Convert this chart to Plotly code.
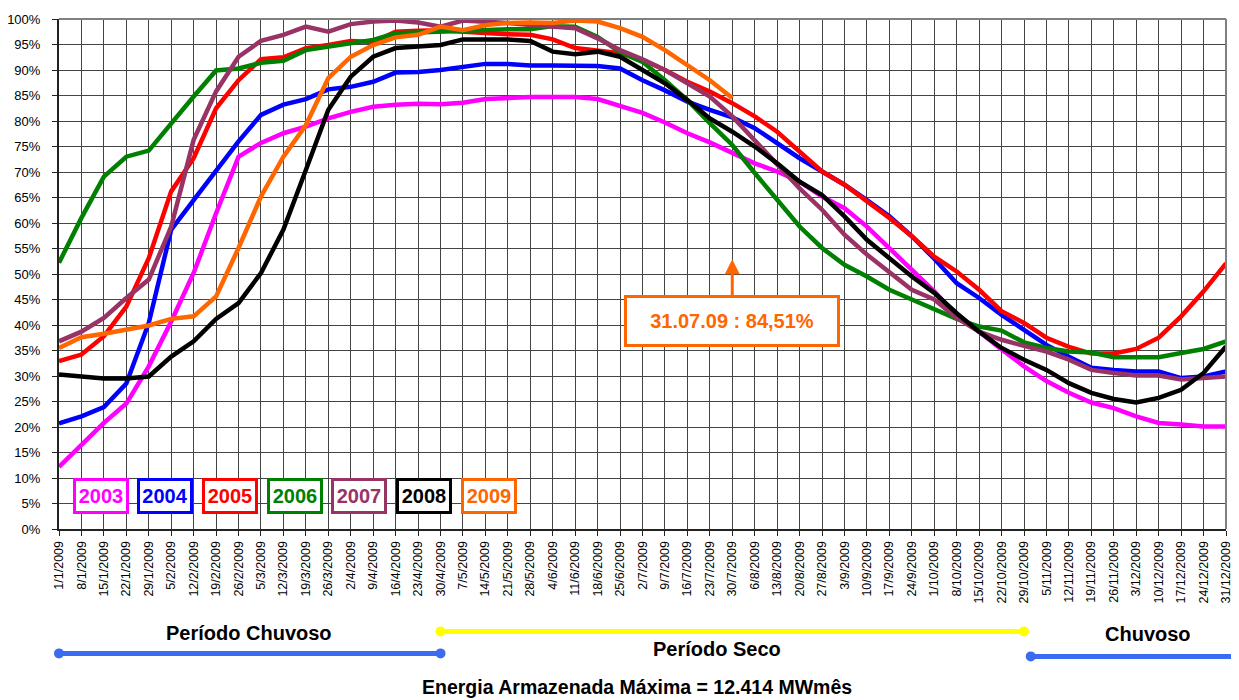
import plotly.graph_objects as go

dates = ["1/1/2009", "8/1/2009", "15/1/2009", "22/1/2009", "29/1/2009", "5/2/2009", "12/2/2009",
         "19/2/2009", "26/2/2009", "5/3/2009", "12/3/2009", "19/3/2009", "26/3/2009", "2/4/2009",
         "9/4/2009", "16/4/2009", "23/4/2009", "30/4/2009", "7/5/2009", "14/5/2009", "21/5/2009",
         "28/5/2009", "4/6/2009", "11/6/2009", "18/6/2009", "25/6/2009", "2/7/2009", "9/7/2009",
         "16/7/2009", "23/7/2009", "30/7/2009", "6/8/2009", "13/8/2009", "20/8/2009", "27/8/2009",
         "3/9/2009", "10/9/2009", "17/9/2009", "24/9/2009", "1/10/2009", "8/10/2009", "15/10/2009",
         "22/10/2009", "29/10/2009", "5/11/2009", "12/11/2009", "19/11/2009", "26/11/2009",
         "3/12/2009", "10/12/2009", "17/12/2009", "24/12/2009", "31/12/2009"]

s2003 = [12.2, 16.5, 20.8, 24.6, 31.9, 40.7, 50.2, 61.9, 73.0, 75.7, 77.6, 78.9, 80.5, 81.8, 82.8, 83.2,
         83.4, 83.3, 83.6, 84.3, 84.6, 84.7, 84.7, 84.7, 84.3, 83.0, 81.6, 79.7, 77.6, 75.8, 73.8, 71.7,
         70.1, 68.1, 65.2, 62.9, 59.3, 55.1, 50.8, 46.6, 41.8, 38.7, 35.2, 31.9, 29.0, 26.7, 24.8, 23.7,
         22.1, 20.8, 20.5, 20.1, 20.1]
s2004 = [20.7, 22.1, 23.9, 28.5, 40.4, 58.7, 64.5, 70.1, 76.0, 81.2, 83.2, 84.3, 86.2, 86.7, 87.7, 89.5,
         89.6, 90.0, 90.7, 91.2, 91.2, 90.9, 90.9, 90.9, 90.8, 90.3, 88.0, 86.0, 83.8, 82.2, 80.7, 78.6,
         75.7, 72.7, 70.1, 67.5, 64.5, 61.3, 57.4, 53.0, 48.2, 45.3, 42.0, 39.1, 36.1, 33.8, 31.6, 31.2,
         30.9, 30.9, 29.6, 29.9, 30.9]
s2005 = [32.9, 34.2, 37.8, 43.6, 53.1, 66.2, 72.7, 82.5, 88.0, 92.1, 92.5, 94.3, 94.9, 95.7, 95.5, 97.5,
         97.7, 97.8, 97.5, 97.2, 97.0, 96.9, 96.0, 94.3, 93.9, 93.3, 92.0, 90.0, 87.7, 85.8, 83.5, 80.9,
         77.9, 74.0, 70.1, 67.5, 64.2, 61.0, 57.4, 53.4, 50.5, 46.9, 42.7, 40.4, 37.5, 35.7, 34.4, 34.4,
         35.3, 37.5, 41.7, 46.6, 52.1]
s2006 = [52.2, 61.0, 69.1, 73.0, 74.2, 79.6, 84.8, 89.9, 90.3, 91.4, 91.8, 93.9, 94.6, 95.1, 95.9, 97.2,
         97.4, 97.6, 97.8, 97.9, 98.0, 98.0, 98.6, 98.5, 96.5, 93.5, 91.6, 88.0, 84.1, 79.6, 75.3, 69.8,
         64.5, 59.3, 55.1, 51.8, 49.5, 46.9, 45.0, 43.1, 41.2, 39.7, 38.9, 36.6, 35.5, 34.8, 34.6, 33.7,
         33.7, 33.7, 34.5, 35.3, 36.8]
s2007 = [36.8, 38.7, 41.4, 45.3, 48.9, 59.3, 76.3, 85.8, 92.6, 95.7, 96.9, 98.5, 97.5, 99.0, 99.5, 99.7,
         99.3, 98.5, 99.7, 99.5, 99.2, 98.8, 98.6, 98.2, 96.2, 93.9, 92.1, 90.0, 87.4, 84.8, 80.9, 76.3,
         71.7, 66.8, 62.6, 57.7, 53.8, 50.3, 46.9, 45.0, 41.4, 38.7, 37.1, 35.9, 34.8, 33.2, 31.2, 30.6,
         30.1, 30.1, 29.3, 29.6, 29.9]
s2008 = [30.3, 29.8, 29.5, 29.5, 29.9, 33.8, 36.8, 41.2, 44.3, 50.2, 58.7, 70.4, 82.2, 88.7, 92.6, 94.3,
         94.5, 94.9, 96.0, 96.0, 96.0, 95.7, 93.6, 93.1, 93.6, 92.6, 90.0, 87.4, 84.1, 80.5, 77.9, 75.0,
         71.7, 68.1, 65.5, 61.3, 56.7, 53.1, 49.5, 46.3, 42.3, 38.7, 35.5, 33.2, 31.2, 28.6, 26.7, 25.5,
         24.8, 25.7, 27.3, 30.6, 35.8]
s2009 = [35.5, 37.6, 38.3, 39.1, 39.9, 41.2, 41.7, 45.6, 55.1, 65.2, 73.0, 79.2, 88.4, 92.6, 94.9, 96.4,
         96.9, 98.5, 97.8, 98.8, 99.2, 99.3, 99.2, 99.7, 99.5, 98.2, 96.5, 93.9, 91.0, 88.0, 84.51]

years = ["2003", "2004", "2005", "2006", "2007", "2008", "2009"]
colors = ["#FF00FF", "#0000FF", "#FF0000", "#008000", "#993366", "#000000", "#FF6600"]
series = [s2003, s2004, s2005, s2006, s2007, s2008, s2009]

callout_idx = 30
callout_text = "31.07.09 : 84,51%"
chuvoso_end = 17   # 30/4
seco_end = 43      # 29/10

BOLDF = "Liberation Sans, Arial, sans-serif"
REG = "Liberation Sans, Arial, sans-serif"

fig = go.Figure()
idx = list(range(len(dates)))
for name, col, vals in zip(years, colors, series):
    fig.add_trace(go.Scatter(x=idx[:len(vals)], y=vals, mode="lines", name=name,
                             line=dict(color=col, width=4.5), showlegend=False))

n = len(dates) - 1
fig.update_layout(
    width=1231, height=692,
    margin=dict(l=51, r=13, t=11, b=170.5, autoexpand=False),
    paper_bgcolor="white", plot_bgcolor="white",
    xaxis=dict(range=[0, n], tickmode="array", tickvals=idx, ticktext=dates, tickangle=-90,
               showgrid=True, gridcolor="#444444", gridwidth=1, zeroline=False,
               showline=True, linecolor="#222222", linewidth=2,
               ticks="outside", ticklen=5, tickcolor="#222222",
               tickfont=dict(family=REG, size=12.5, color="#000000")),
    yaxis=dict(range=[0, 100], dtick=5, ticksuffix="%", showgrid=True, gridcolor="#444444",
               gridwidth=1, zeroline=False, showline=True, linecolor="#222222", linewidth=2,
               ticks="outside", ticklen=5, tickcolor="#222222", ticklabelstandoff=9,
               tickfont=dict(family=REG, size=13, color="#000000")),
)

# gray frame top and right
fig.add_shape(type="line", xref="paper", yref="paper", x0=0, x1=1, y0=1, y1=1,
              line=dict(color="#808080", width=2))
fig.add_shape(type="line", xref="paper", yref="paper", x0=1, x1=1, y0=0, y1=1,
              line=dict(color="#808080", width=2))

# legend boxes
for k, (name, col) in enumerate(zip(years, colors)):
    fig.add_annotation(x=1.86 + k * 2.88, y=6.4, xref="x", yref="y", text="<b>%s</b>" % name,
                       showarrow=False, font=dict(family=BOLDF, size=20, color=col),
                       bgcolor="white", bordercolor=col, borderwidth=3, borderpad=2,
                       width=46, height=26)

# callout
fig.add_annotation(x=callout_idx, y=52.9, xref="x", yref="y", text="<b>%s</b>" % callout_text,
                   showarrow=True, ax=0, ay=62, arrowhead=2, arrowsize=1, arrowwidth=3,
                   arrowcolor="#FF6600", font=dict(family=BOLDF, size=20, color="#FF6600"),
                   bgcolor="white", bordercolor="#FF6600", borderwidth=3, borderpad=2,
                   width=206, height=42)

# period bars
def pline(i0, i1, y, col, x1override=None):
    x0 = i0 / n
    x1 = x1override if x1override is not None else i1 / n
    fig.add_shape(type="line", xref="paper", yref="paper", x0=x0, x1=x1, y0=y, y1=y,
                  line=dict(color=col, width=5))
    for xx in (x0, x1):
        fig.add_shape(type="circle", xref="paper", yref="paper", xsizemode="pixel",
                      ysizemode="pixel", xanchor=xx, yanchor=y, x0=-5, x1=5, y0=-5, y1=5,
                      fillcolor=col, line=dict(color=col, width=0))

BLUE = "#3A6BF0"
pline(0, chuvoso_end, -0.2439, BLUE)
pline(chuvoso_end, seco_end, -0.2008, "#FFFF00")
pline(seco_end + 0.3, None, -0.2498, BLUE, x1override=1.016)

def label(x, y, text, size=20):
    fig.add_annotation(x=x, y=y, xref="paper", yref="paper", text="<b>%s</b>" % text,
                       showarrow=False, xanchor="center", yanchor="middle",
                       font=dict(family=BOLDF, size=size, color="#000000"))

label(0.163, -0.2047, "Período Chuvoso")
label(0.564, -0.236, "Período Seco")
label(0.933, -0.2067, "Chuvoso")
label(0.495, -0.3105, "Energia Armazenada Máxima = 12.414 MWmês", size=19.5)

fig.write_html("out.html")
